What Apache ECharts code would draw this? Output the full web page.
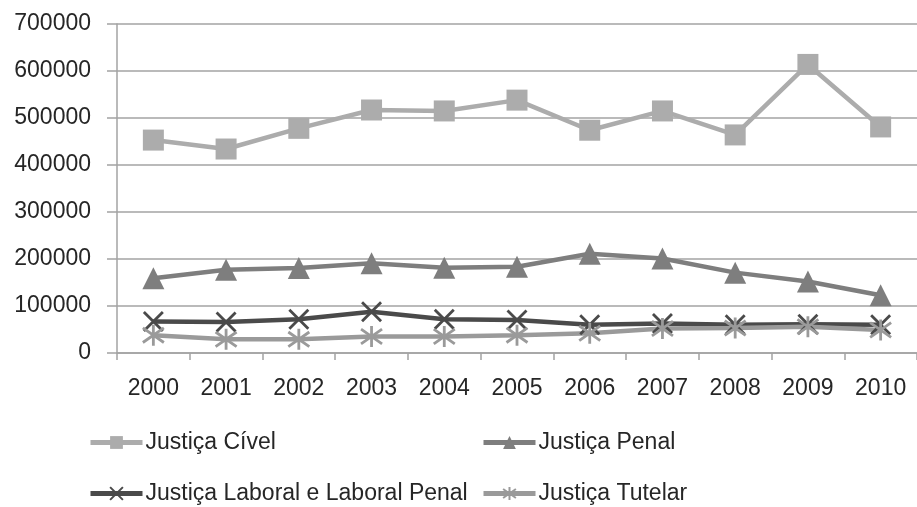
<!DOCTYPE html>
<html>
<head>
<meta charset="utf-8">
<script src="https://cdn.jsdelivr.net/npm/echarts@6/dist/echarts.min.js"></script>
<style>
  html, body { margin: 0; padding: 0; background: #ffffff; }
  #chart { width: 917px; height: 507px; }
</style>
</head>
<body>
<div id="chart"></div>
<script>
// Processos por área da justiça, 2000–2010
const years = ['2000', '2001', '2002', '2003', '2004', '2005', '2006', '2007', '2008', '2009', '2010'];
const civel = [453000, 434000, 478000, 517000, 515000, 538000, 474000, 515000, 464000, 614000, 481000];
const penal = [159000, 177000, 181000, 191000, 181500, 183500, 211000, 201000, 171000, 152000, 123000];
const laboral = [67000, 66000, 72000, 88000, 72000, 70000, 60000, 63000, 60000, 61000, 60000];
const tutelar = [38000, 29000, 29000, 35000, 35000, 38000, 42000, 52000, 53000, 56000, 49000];
const seriesNames = ['Justiça Cível', 'Justiça Penal', 'Justiça Laboral e Laboral Penal', 'Justiça Tutelar'];

const FONT = 'Liberation Sans';
const TEXT = '#262626';
const AXIS = '#a3a3a3';

const crossPath = 'path://M0,0L10,10M10,0L0,10';
const starPath = 'path://M5,0L5,10M1.5,1.5L8.5,8.5M8.5,1.5L1.5,8.5';

function lineSeries(name, data, color, symbol, size, stroke) {
  return {
    name: name,
    type: 'line',
    data: data,
    symbol: symbol,
    symbolSize: size,
    showAllSymbol: true,
    lineStyle: { color: color, width: 4.5 },
    itemStyle: stroke
      ? { color: color, borderColor: color, borderWidth: 2.8 }
      : { color: color, borderWidth: 0 },
    emphasis: { disabled: true },
    animation: false
  };
}

function legendAt(name, left, top) {
  return {
    data: [name],
    left: left,
    top: top,
    padding: 0,
    itemWidth: 52,
    itemHeight: 16,
    itemGap: 0,
    lineStyle: { width: 5 },
    textStyle: { fontFamily: FONT, fontSize: 23, color: TEXT, padding: [0, 0, 0, -2] },
    selectedMode: false
  };
}

const chart = echarts.init(document.getElementById('chart'), null, { renderer: 'canvas' });
chart.setOption({
  backgroundColor: '#ffffff',
  animation: false,
  grid: { left: 117, top: 24, width: 807, height: 329, containLabel: false },
  legend: [
    legendAt(seriesNames[0], 88, 431),
    legendAt(seriesNames[1], 481, 431),
    legendAt(seriesNames[2], 88, 482),
    legendAt(seriesNames[3], 481, 482)
  ],
  xAxis: {
    type: 'category',
    data: years,
    boundaryGap: true,
    axisLine: { show: true, lineStyle: { color: AXIS, width: 1.5 } },
    axisTick: { show: true, length: 7, lineStyle: { color: AXIS, width: 1.5 } },
    axisLabel: { fontFamily: FONT, fontSize: 23, color: TEXT, margin: 24 }
  },
  yAxis: {
    type: 'value',
    min: 0,
    max: 700000,
    interval: 100000,
    axisLine: { show: true, lineStyle: { color: AXIS, width: 1.5 } },
    axisTick: { show: true, length: 10, lineStyle: { color: AXIS, width: 1.5 } },
    splitLine: { show: true, lineStyle: { color: AXIS, width: 1.5 } },
    axisLabel: {
      fontFamily: FONT, fontSize: 23, color: TEXT, margin: 26,
      formatter: function (v) { return String(v); }
    }
  },
  series: [
    lineSeries(seriesNames[0], civel, '#acacac', 'rect', 21, false),
    lineSeries(seriesNames[1], penal, '#7e7e7e', 'triangle', 22, false),
    lineSeries(seriesNames[2], laboral, '#4a4a4a', crossPath, 19, true),
    lineSeries(seriesNames[3], tutelar, '#9a9a9a', starPath, 21, true)
  ]
});
</script>
</body>
</html>
